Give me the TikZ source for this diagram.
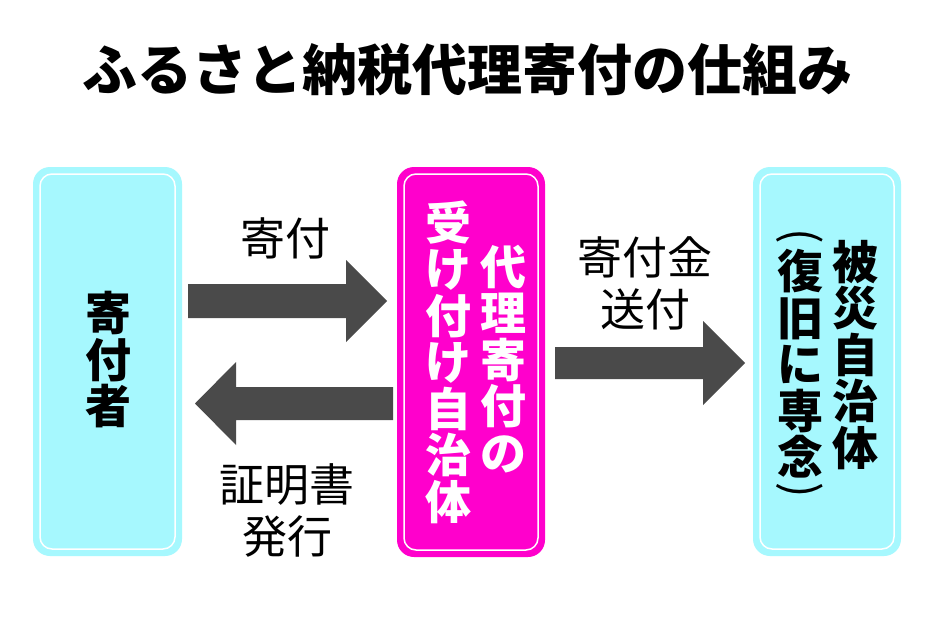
\documentclass[tikz,border=0pt]{standalone}
\usepackage{fontspec}
\newfontfamily\jp{Noto Sans CJK JP}
\definecolor{boxcyan}{HTML}{A6F8FE}
\definecolor{boxmag}{HTML}{FF00CC}
\definecolor{arrowgray}{HTML}{4A4A4A}
\tikzset{
  outerbox/.style={rounded corners=17pt, draw=none},
  innerline/.style={draw=white, line width=1.5pt, rounded corners=12pt},
  fatarrow/.style={fill=arrowgray, draw=none},
  vtext/.style={align=center, inner sep=0pt, font=\jp\bfseries\fontsize{46}{46.5}\selectfont},
  paren/.style={inner sep=0pt, rotate=-90, font=\jp\fontsize{46}{46}\selectfont},
  lbl/.style={align=center, inner sep=0pt, font=\jp\fontsize{45}{52}\selectfont},
}
\begin{document}
\begin{tikzpicture}[x=1pt, y=-1pt]
\useasboundingbox (0,0) rectangle (934,618);
\fill[white] (0,0) rectangle (934,618);
% title
\node[inner sep=0pt, font=\jp\bfseries\fontsize{55}{60}\selectfont] (title) at (467,70) {ふるさと納税代理寄付の仕組み};
% boxes
\fill[boxcyan, outerbox] (33,167) rectangle (182,556);
\draw[innerline] (40,174) rectangle (175,549);
\fill[boxmag, outerbox] (397,167) rectangle (545,557);
\draw[innerline] (404,174) rectangle (538,550);
\fill[boxcyan, outerbox] (753,167) rectangle (901,556);
\draw[innerline] (760,174) rectangle (894,549);
% box texts
\node[vtext] (donor) at (108,360) {寄\\付\\者};
\node[vtext, text=white] (midA) at (448,362) {受\\け\\付\\け\\自\\治\\体};
\node[vtext, text=white] (midB) at (503,359) {代\\理\\寄\\付\\の};
\node[vtext] (victimA) at (855,355) {被\\災\\自\\治\\体};
\node[vtext] (victimB) at (800,364) {復\\旧\\に\\専\\念};
\node[paren] (popen) at (800,236) {(};
\node[paren] (pclose) at (800,490) {)};
% arrows
\fill[fatarrow] (188,284) -- (346,284) -- (346,260) -- (387,301) -- (346,342) -- (346,318) -- (188,318) -- cycle;
\fill[fatarrow] (393,387) -- (236,387) -- (236,362) -- (195,403.5) -- (236,445) -- (236,420) -- (393,420) -- cycle;
\fill[fatarrow] (555,347) -- (703,347) -- (703,321) -- (745,363) -- (703,405) -- (703,379) -- (555,379) -- cycle;
% labels
\node[lbl] (l1) at (285,238) {寄付};
\node[lbl] (l2) at (645,283) {寄付金\\送付};
\node[lbl] (l3) at (287,510) {証明書\\発行};
\end{tikzpicture}
\end{document}
